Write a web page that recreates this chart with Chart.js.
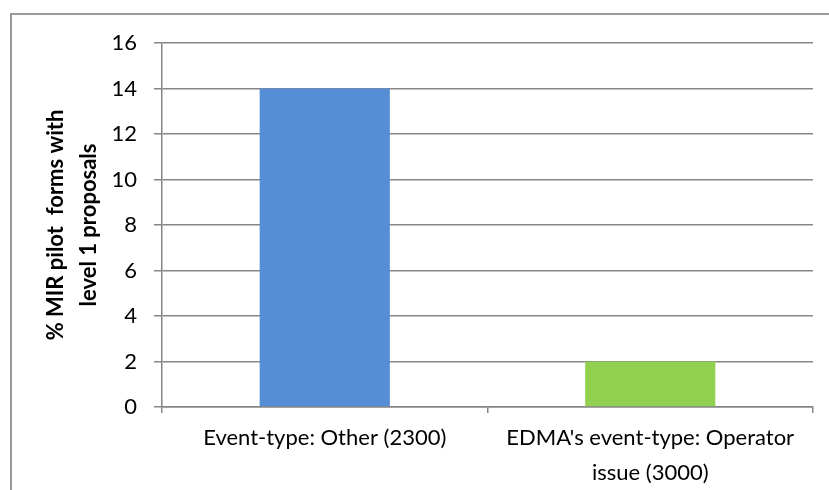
<!DOCTYPE html>
<html>
<head>
<meta charset="utf-8">
<script src="https://cdn.jsdelivr.net/npm/chart.js@4/dist/chart.umd.min.js"></script>
<style>
  html, body { margin: 0; padding: 0; background: #ffffff; }
  #wrap { width: 829px; height: 490px; position: relative; }
</style>
</head>
<body>
<div id="wrap"><canvas id="chart" width="829" height="490"></canvas></div>
<script>
// Share of MIR pilot forms carrying level 1 proposals, by event type
const categories = [
  "Event-type: Other (2300)",
  ["EDMA's event-type: Operator", "issue (3000)"]
];
const percentValues = [14, 2];
const barColors = ["#558ED5", "#92D050"];
const yTickValues = [0, 2, 4, 6, 8, 10, 12, 14, 16];
const yTitleLines = ["% MIR pilot  forms with", "level 1 proposals"];

const FONT = "Lato, 'Open Sans', sans-serif";
const GRID = "#868686";

// Frame line along the top and left of the chart
const framePlugin = {
  id: 'frame',
  beforeDraw(chart) {
    const ctx = chart.ctx;
    ctx.save();
    ctx.strokeStyle = '#9a9a9a';
    ctx.lineWidth = 2;
    ctx.beginPath();
    ctx.moveTo(11, chart.height);
    ctx.lineTo(11, 14);
    ctx.lineTo(chart.width, 14);
    ctx.stroke();
    ctx.restore();
  }
};

new Chart(document.getElementById('chart'), {
  type: 'bar',
  data: {
    labels: categories,
    datasets: [{
      data: percentValues,
      backgroundColor: barColors,
      borderWidth: 0,
      barPercentage: 0.4,
      categoryPercentage: 1.0
    }]
  },
  options: {
    responsive: false,
    animation: false,
    layout: { padding: { top: 43, right: 16, bottom: 0, left: 0 } },
    plugins: {
      legend: { display: false },
      tooltip: { enabled: false }
    },
    scales: {
      x: {
        offset: true,
        grid: {
          offset: true,
          drawOnChartArea: false,
          drawTicks: true,
          tickLength: 6,
          color: GRID,
          lineWidth: 1.5
        },
        border: { display: true, color: GRID, width: 1.5 },
        ticks: {
          color: '#000',
          padding: 7,
          maxRotation: 0,
          autoSkip: false,
          font: { family: FONT, size: 22, lineHeight: 35 / 22 }
        },
        afterFit(scale) { scale.height = 83; }
      },
      y: {
        min: 0,
        max: 16,
        afterBuildTicks(scale) {
          scale.ticks = yTickValues.map(v => ({ value: v }));
        },
        grid: {
          color: GRID,
          lineWidth: 1.5,
          drawTicks: true,
          tickLength: 8
        },
        border: { display: true, color: GRID, width: 1.5 },
        ticks: {
          color: '#000',
          padding: 17,
          font: { family: FONT, size: 22 }
        },
        title: {
          display: true,
          text: yTitleLines,
          color: '#000',
          padding: { top: 39.5, bottom: 0 },
          font: { family: FONT, size: 22, weight: 'bold', lineHeight: 33 / 22 }
        },
        afterFit(scale) { scale.width = 162; }
      }
    }
  },
  plugins: [framePlugin]
});
</script>
</body>
</html>
